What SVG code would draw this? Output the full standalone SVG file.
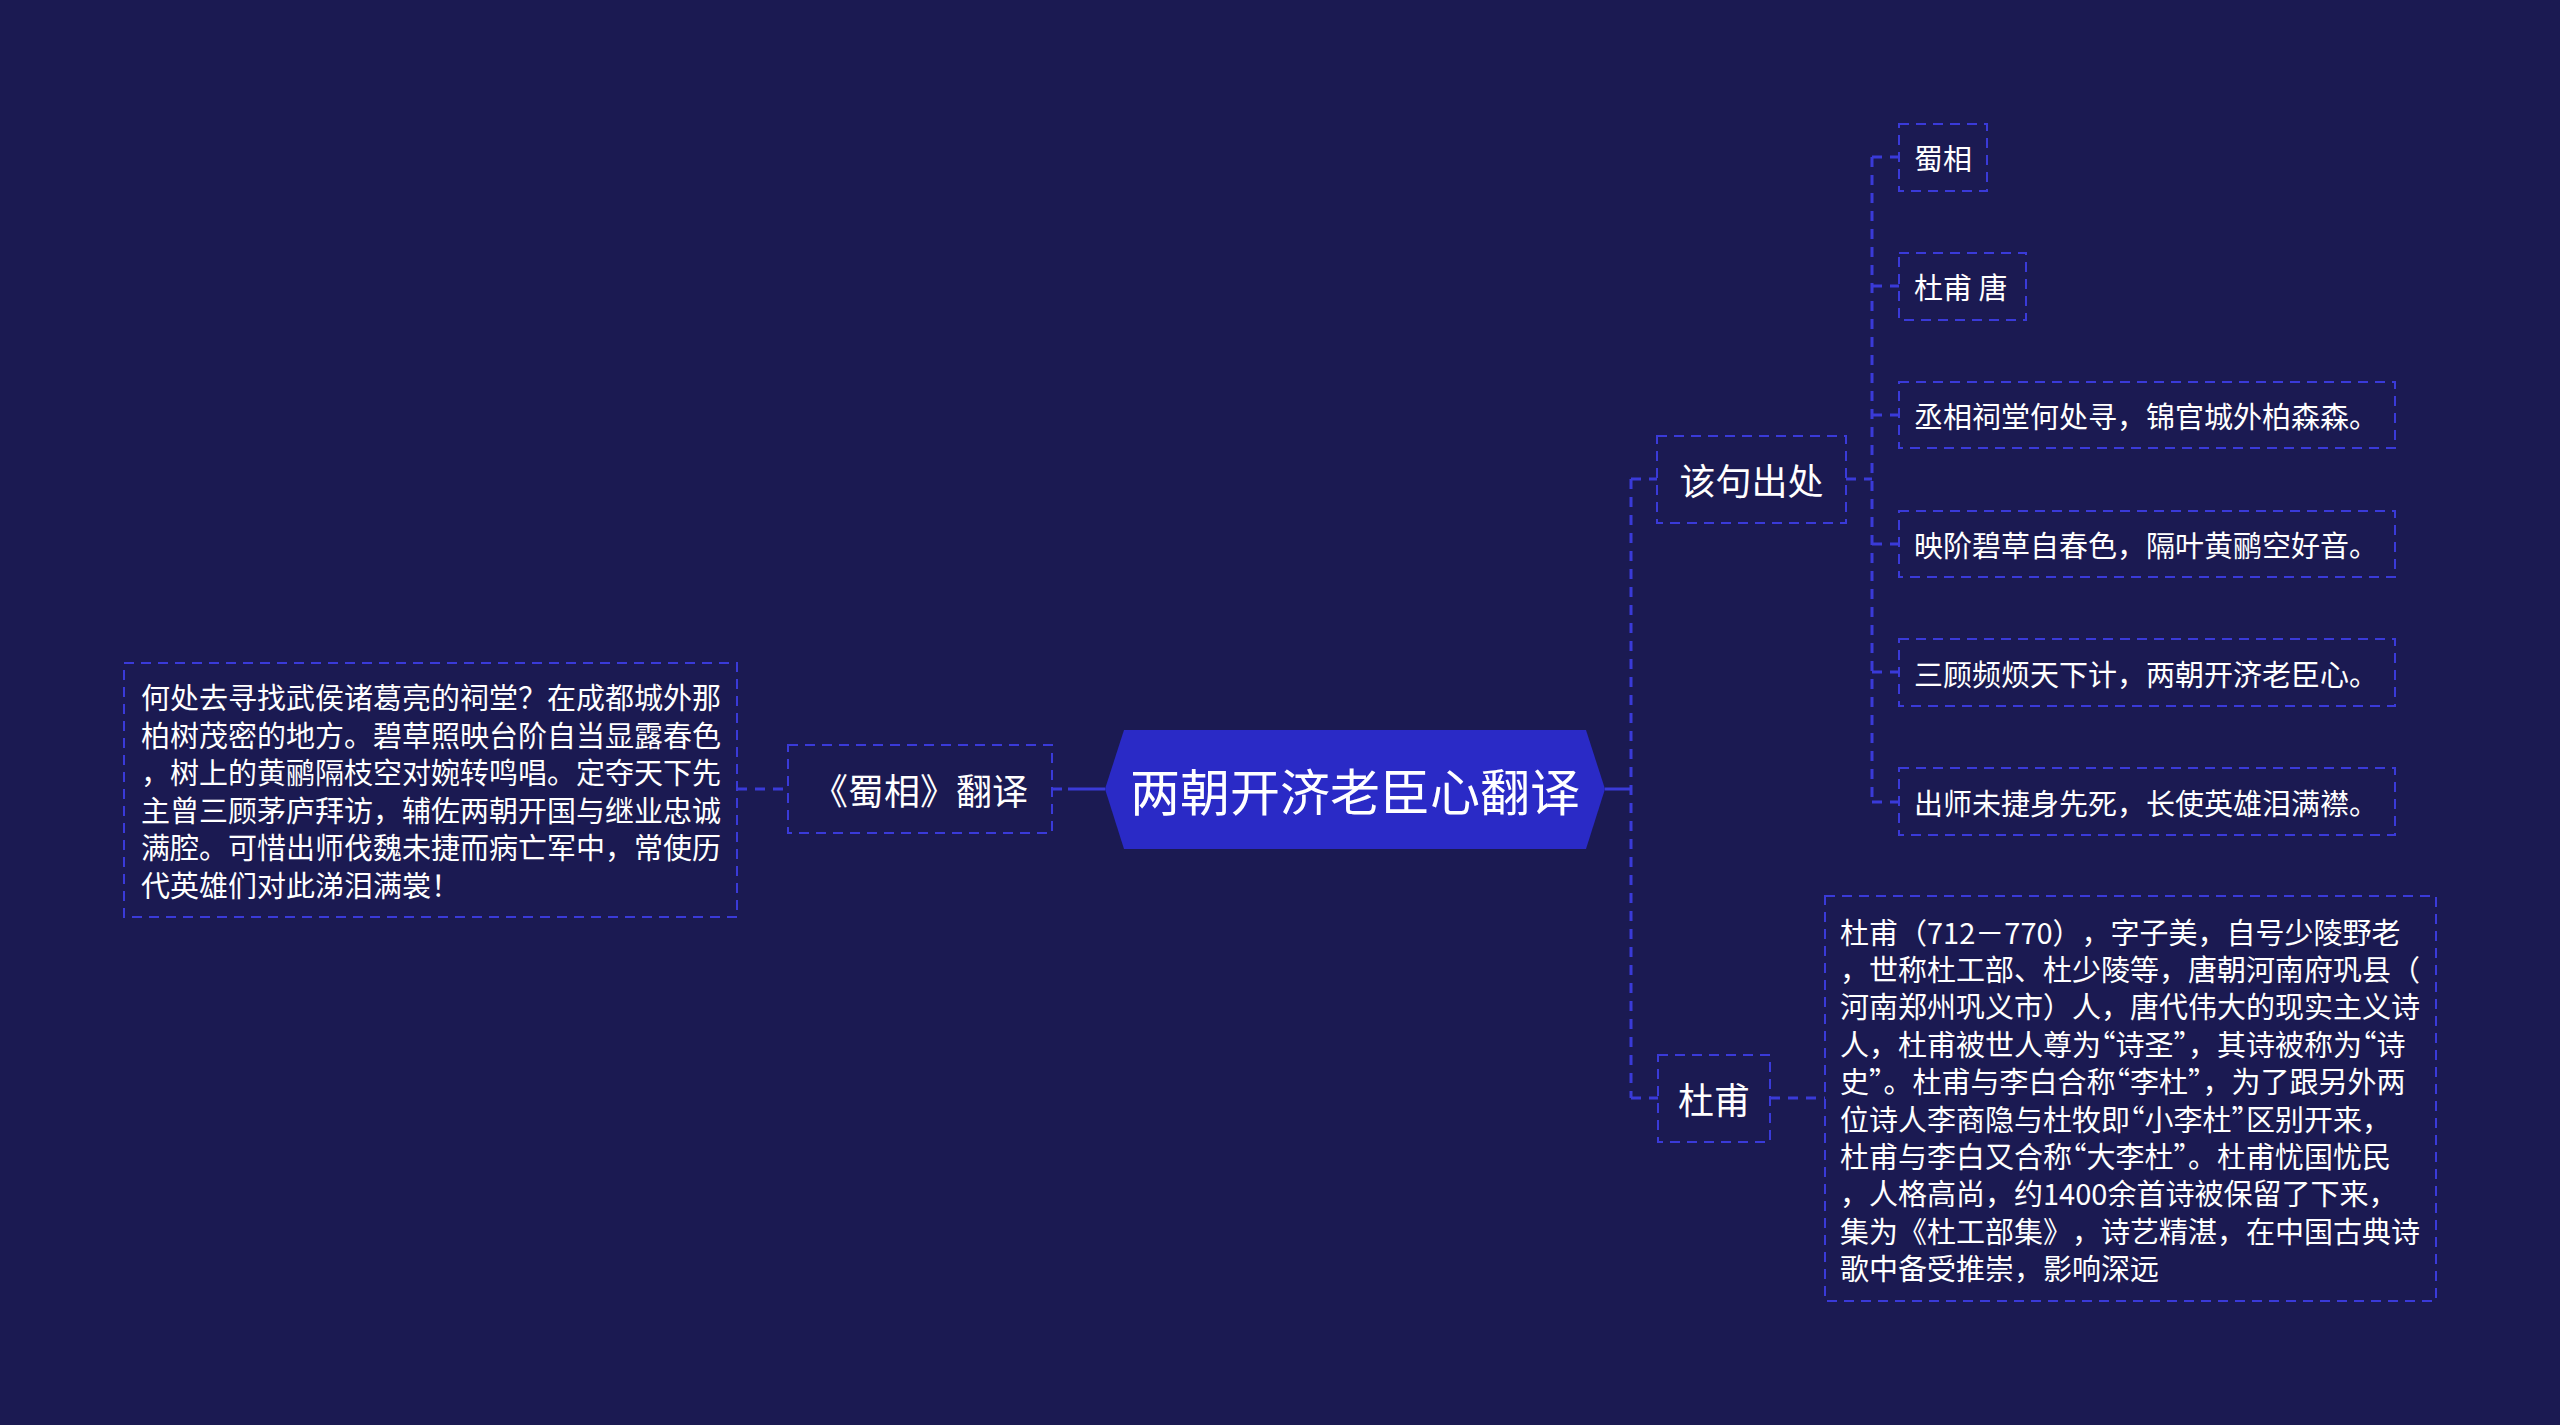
<svg xmlns="http://www.w3.org/2000/svg" width="2560" height="1425" viewBox="0 0 2560 1425">
<style>
.t{font-family:"Noto Sans CJK SC","Noto Sans",sans-serif;fill:#ffffff;dominant-baseline:central;text-spacing-trim:space-all}
.q{font-feature-settings:"halt" 1}
.box{fill:none;stroke:#3a3ad8;stroke-width:2;stroke-dasharray:10 7}
.c{fill:none;stroke:#3a3ad8;stroke-width:3;stroke-dasharray:10 8}
.s{fill:none;stroke:#3a3ad8;stroke-width:3}
.f29{font-size:29px}
.f36{font-size:36px}
</style>
<rect width="2560" height="1425" fill="#1b1a52"/>
<g id="connectors">
<line class="s" x1="1605" y1="789" x2="1631" y2="789"/>
<line class="c" x1="1631" y1="479" x2="1631" y2="1098"/>
<line class="c" x1="1631" y1="479" x2="1657" y2="479"/>
<line class="c" x1="1631" y1="1098" x2="1658" y2="1098"/>
<line class="c" x1="1846" y1="479" x2="1872" y2="479"/>
<line class="c" x1="1872" y1="157" x2="1872" y2="802"/>
<line class="c" x1="1872" y1="157" x2="1899" y2="157"/>
<line class="c" x1="1872" y1="286" x2="1899" y2="286"/>
<line class="c" x1="1872" y1="415" x2="1899" y2="415"/>
<line class="c" x1="1872" y1="544" x2="1899" y2="544"/>
<line class="c" x1="1872" y1="672" x2="1899" y2="672"/>
<line class="c" x1="1872" y1="802" x2="1899" y2="802"/>
<line class="c" x1="1770" y1="1098" x2="1825" y2="1098"/>
<line class="c" x1="1052" y1="789" x2="1066" y2="789"/>
<line class="s" x1="1068" y1="789" x2="1105" y2="789"/>
<line class="c" x1="737" y1="789" x2="788" y2="789"/>
</g>
<g id="root">
<polygon points="1105,789 1124,730 1586,730 1605,789 1586,849 1124,849" fill="#2a2ac6"/>
<text class="t" x="1355" y="789" font-size="50" text-anchor="middle">两朝开济老臣心翻译</text>
</g>
<g id="n-shuxiang-fanyi">
<rect class="box" x="788" y="745" width="264" height="88"/>
<text class="t f36" x="920" y="789" text-anchor="middle">《蜀相》翻译</text>
</g>
<g id="n-fanyi-text">
<rect class="box" x="124" y="663" width="613" height="254"/>
<text class="t f29" x="141" y="696">何处去寻找武侯诸葛亮的祠堂？在成都城外那</text>
<text class="t f29" x="141" y="733.5">柏树茂密的地方。碧草照映台阶自当显露春色</text>
<text class="t f29" x="141" y="771">，树上的黄鹂隔枝空对婉转鸣唱。定夺天下先</text>
<text class="t f29" x="141" y="808.5">主曾三顾茅庐拜访，辅佐两朝开国与继业忠诚</text>
<text class="t f29" x="141" y="846">满腔。可惜出师伐魏未捷而病亡军中，常使历</text>
<text class="t f29" x="141" y="883.5">代英雄们对此涕泪满裳！</text>
</g>
<g id="n-chuchu">
<rect class="box" x="1657" y="436" width="189" height="87"/>
<text class="t f36" x="1751.5" y="479" text-anchor="middle">该句出处</text>
</g>
<g id="n-shuxiang">
<rect class="box" x="1899" y="124" width="88" height="67"/>
<text class="t f29" x="1914" y="157">蜀相</text>
</g>
<g id="n-dufu-tang">
<rect class="box" x="1899" y="253" width="127" height="67"/>
<text class="t f29" x="1914" y="286">杜甫 唐</text>
</g>
<g id="n-line1">
<rect class="box" x="1899" y="382" width="496" height="66"/>
<text class="t f29" x="1914" y="415">丞相祠堂何处寻，锦官城外柏森森。</text>
</g>
<g id="n-line2">
<rect class="box" x="1899" y="511" width="496" height="66"/>
<text class="t f29" x="1914" y="544">映阶碧草自春色，隔叶黄鹂空好音。</text>
</g>
<g id="n-line3">
<rect class="box" x="1899" y="639" width="496" height="67"/>
<text class="t f29" x="1914" y="672.5">三顾频烦天下计，两朝开济老臣心。</text>
</g>
<g id="n-line4">
<rect class="box" x="1899" y="768" width="496" height="67"/>
<text class="t f29" x="1914" y="801.5">出师未捷身先死，长使英雄泪满襟。</text>
</g>
<g id="n-dufu">
<rect class="box" x="1658" y="1055" width="112" height="87"/>
<text class="t f36" x="1714" y="1098" text-anchor="middle">杜甫</text>
</g>
<g id="n-dufu-text">
<rect class="box" x="1825" y="896" width="611" height="405"/>
<text class="t f29" x="1840" y="930.5">杜甫（712－770），字子美，自号少陵野老</text>
<text class="t f29" x="1840" y="967.9">，世称杜工部、杜少陵等，唐朝河南府巩县（</text>
<text class="t f29" x="1840" y="1005.3">河南郑州巩义市）人，唐代伟大的现实主义诗</text>
<text class="t f29" x="1840" y="1042.7">人，杜甫被世人尊为<tspan class="q">“</tspan>诗圣<tspan class="q">”</tspan>，其诗被称为<tspan class="q">“</tspan>诗</text>
<text class="t f29" x="1840" y="1080.1">史<tspan class="q">”</tspan>。杜甫与李白合称<tspan class="q">“</tspan>李杜<tspan class="q">”</tspan>，为了跟另外两</text>
<text class="t f29" x="1840" y="1117.5">位诗人李商隐与杜牧即<tspan class="q">“</tspan>小李杜<tspan class="q">”</tspan>区别开来，</text>
<text class="t f29" x="1840" y="1154.9">杜甫与李白又合称<tspan class="q">“</tspan>大李杜<tspan class="q">”</tspan>。杜甫忧国忧民</text>
<text class="t f29" x="1840" y="1192.3">，人格高尚，约1400余首诗被保留了下来，</text>
<text class="t f29" x="1840" y="1229.7">集为《杜工部集》，诗艺精湛，在中国古典诗</text>
<text class="t f29" x="1840" y="1267.1">歌中备受推崇，影响深远</text>
</g>
</svg>
